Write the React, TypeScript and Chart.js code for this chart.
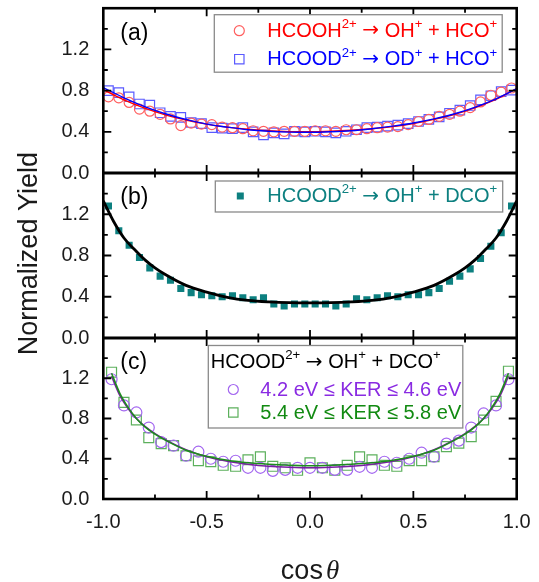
import React, { useEffect, useRef } from 'react';
import { Chart, registerables } from 'chart.js';

Chart.register(...registerables);

const SANS = '"Liberation Sans", Arial, Helvetica, sans-serif';
const ARROW_FONT = '"DejaVu Sans", "Liberation Sans", sans-serif';
const SERIF = '"Liberation Serif", "Times New Roman", serif';

// cos(theta) bin centres used in panels (a) and (b)
const cosBinsAB = [
  -0.975, -0.925, -0.875, -0.825, -0.775, -0.725, -0.675, -0.625, -0.575, -0.525,
  -0.475, -0.425, -0.375, -0.325, -0.275, -0.225, -0.175, -0.125, -0.075, -0.025,
  0.025, 0.075, 0.125, 0.175, 0.225, 0.275, 0.325, 0.375, 0.425, 0.475,
  0.525, 0.575, 0.625, 0.675, 0.725, 0.775, 0.825, 0.875, 0.925, 0.975,
];

// (a) HCOOH2+ -> OH+ + HCO+
const yieldHcoohOH = [
  0.74, 0.73, 0.685, 0.62, 0.6, 0.57, 0.525, 0.46, 0.485, 0.475,
  0.47, 0.445, 0.44, 0.43, 0.41, 0.405, 0.4, 0.405, 0.405, 0.405,
  0.41, 0.41, 0.405, 0.42, 0.42, 0.43, 0.44, 0.445, 0.45, 0.47,
  0.5, 0.52, 0.55, 0.57, 0.6, 0.635, 0.69, 0.755, 0.785, 0.825,
];

// (a) HCOOD2+ -> OD+ + HCO+
const yieldHcoodOD = [
  0.8, 0.78, 0.74, 0.67, 0.66, 0.585, 0.55, 0.54, 0.49, 0.48,
  0.44, 0.435, 0.43, 0.44, 0.4, 0.37, 0.39, 0.38, 0.405, 0.4,
  0.405, 0.4, 0.39, 0.405, 0.42, 0.44, 0.445, 0.455, 0.465, 0.48,
  0.5, 0.52, 0.545, 0.58, 0.61, 0.655, 0.71, 0.75, 0.79, 0.805,
];

// (b) HCOOD2+ -> OH+ + DCO+
const yieldHcoodOH = [
  1.28, 1.04, 0.9, 0.78, 0.68, 0.6, 0.56, 0.48, 0.44, 0.42,
  0.41, 0.4, 0.41, 0.39, 0.37, 0.39, 0.33, 0.31, 0.33, 0.33,
  0.33, 0.33, 0.31, 0.33, 0.38, 0.37, 0.39, 0.41, 0.4, 0.42,
  0.42, 0.44, 0.48, 0.55, 0.6, 0.67, 0.77, 0.89, 1.02, 1.28,
];

// cos(theta) bin centres used in panel (c)
const cosBinsC = [
  -0.96, -0.9, -0.84, -0.78, -0.72, -0.66, -0.6, -0.54, -0.48, -0.42, -0.36,
  -0.3, -0.24, -0.18, -0.12, -0.06, 0, 0.06, 0.12, 0.18, 0.24, 0.3,
  0.36, 0.42, 0.48, 0.54, 0.6, 0.66, 0.72, 0.78, 0.84, 0.9, 0.96,
];

// (c) 4.2 eV <= KER <= 4.6 eV
const yieldKerLow = [
  1.19, 0.93, 0.86, 0.71, 0.565, 0.53, 0.43, 0.47, 0.4, 0.37, 0.38,
  0.31, 0.31, 0.28, 0.29, 0.31, 0.31, 0.31, 0.29, 0.29, 0.32, 0.31,
  0.37, 0.36, 0.4, 0.46, 0.42, 0.55, 0.58, 0.71, 0.85, 0.93, 1.19,
];

// (c) 5.4 eV <= KER <= 5.8 eV
const yieldKerHigh = [
  1.26, 0.96, 0.785, 0.61, 0.55, 0.53, 0.43, 0.38, 0.37, 0.335, 0.325,
  0.39, 0.42, 0.325, 0.31, 0.285, 0.36, 0.31, 0.285, 0.335, 0.42, 0.39,
  0.335, 0.325, 0.38, 0.38, 0.42, 0.52, 0.555, 0.62, 0.785, 0.97, 1.27,
];

// fitted angular distributions
const fitCosA = [-1, -0.9, -0.8, -0.7, -0.6, -0.5, -0.4, -0.3, -0.2, -0.1, 0, 0.1, 0.2, 0.3, 0.4, 0.5, 0.6, 0.7, 0.8, 0.9, 1];
const fitHcoohOH = [0.81, 0.71, 0.63, 0.565, 0.515, 0.475, 0.445, 0.425, 0.41, 0.402, 0.4, 0.405, 0.415, 0.43, 0.45, 0.48, 0.52, 0.57, 0.635, 0.715, 0.82];
const fitHcoodOD = [0.83, 0.73, 0.645, 0.575, 0.52, 0.475, 0.445, 0.42, 0.405, 0.397, 0.395, 0.4, 0.41, 0.43, 0.455, 0.485, 0.525, 0.575, 0.64, 0.72, 0.82];

const fitCosB = [-1, -0.95, -0.9, -0.85, -0.8, -0.75, -0.7, -0.6, -0.5, -0.4, -0.3, -0.2, -0.1, 0, 0.1, 0.2, 0.3, 0.4, 0.5, 0.6, 0.7, 0.75, 0.8, 0.85, 0.9, 0.95, 1];
const fitHcoodOH = [1.33, 1.13, 0.97, 0.86, 0.76, 0.68, 0.615, 0.51, 0.445, 0.395, 0.365, 0.35, 0.342, 0.34, 0.342, 0.35, 0.365, 0.395, 0.445, 0.51, 0.615, 0.68, 0.76, 0.86, 0.97, 1.13, 1.33];

const fitCosC = [-0.96, -0.92, -0.88, -0.84, -0.8, -0.75, -0.7, -0.6, -0.5, -0.4, -0.3, -0.2, -0.1, 0, 0.1, 0.2, 0.3, 0.4, 0.5, 0.6, 0.7, 0.75, 0.8, 0.84, 0.88, 0.92, 0.96];
const fitKerLow = [1.22, 1.03, 0.9, 0.8, 0.725, 0.65, 0.59, 0.49, 0.42, 0.375, 0.345, 0.325, 0.315, 0.31, 0.315, 0.325, 0.345, 0.375, 0.42, 0.49, 0.59, 0.65, 0.725, 0.8, 0.9, 1.03, 1.22];
const fitKerHigh = [1.25, 1.05, 0.91, 0.8, 0.72, 0.645, 0.585, 0.485, 0.425, 0.385, 0.36, 0.345, 0.335, 0.33, 0.335, 0.345, 0.36, 0.385, 0.425, 0.485, 0.585, 0.645, 0.72, 0.8, 0.91, 1.05, 1.25];

// axis ticks
const yMajorTicks = [0.4, 0.8, 1.2];
const yMinorTicks = [0.2, 0.6, 1.0, 1.4];
const xMajorTicks = [-0.5, 0, 0.5];
const xMinorTicks = [-0.75, -0.25, 0.25, 0.75];
const yRange = [0, 1.6];
const xRange = [-1, 1];

const panelIds = ['yA', 'yB', 'yC'];
const panelTags = ['(a)', '(b)', '(c)'];

type Seg = { t: string; sup?: boolean; arrow?: boolean };
const reaction = (parent: string, ion1: string, ion2: string): Seg[] => [
  { t: parent }, { t: '2+', sup: true },
  { t: ' ' }, { t: '\u2192', arrow: true }, { t: ' ' + ion1 }, { t: '+', sup: true },
  { t: ' + ' + ion2 }, { t: '+', sup: true },
];

const COL = {
  red: '#ff0000', redMark: 'rgb(255,95,95)',
  blue: '#0000ff', blueMark: 'rgb(90,90,255)',
  teal: '#0d8080',
  violet: '#8a2be2', violetMark: '#a366f0', violetLine: '#7a1fa2',
  green: '#128a12', greenMark: '#5cb05c', greenLine: '#1e8c1e',
  text: '#1a1a1a',
};

const pts = (xs: number[], ys: number[]) => xs.map((x, i) => ({ x, y: ys[i] }));

function drawRich(ctx: CanvasRenderingContext2D, segs: Seg[], x: number, y: number, size: number, color: string) {
  let cx = x;
  ctx.fillStyle = color;
  ctx.textBaseline = 'middle';
  ctx.textAlign = 'left';
  for (const s of segs) {
    const fs = s.sup ? size * 0.66 : size;
    ctx.font = `${fs}px ${s.arrow ? ARROW_FONT : SANS}`;
    ctx.fillText(s.t, cx, s.sup ? y - size * 0.34 : y);
    cx += ctx.measureText(s.t).width;
  }
}

function drawMarker(ctx: CanvasRenderingContext2D, kind: string, x: number, y: number, color: string) {
  ctx.save();
  ctx.lineWidth = 1.2;
  ctx.strokeStyle = color;
  ctx.fillStyle = color;
  ctx.beginPath();
  if (kind === 'circle') {
    ctx.arc(x, y, 5, 0, Math.PI * 2);
    ctx.stroke();
  } else if (kind === 'square') {
    ctx.rect(x - 4.7, y - 4.7, 9.4, 9.4);
    ctx.stroke();
  } else {
    ctx.rect(x - 3.5, y - 3.5, 7, 7);
    ctx.fill();
  }
  ctx.restore();
}

function legendBox(ctx: CanvasRenderingContext2D, l: number, t: number, r: number, b: number) {
  ctx.save();
  ctx.fillStyle = '#ffffff';
  ctx.fillRect(l, t, r - l, b - t);
  ctx.strokeStyle = '#8a8a8a';
  ctx.lineWidth = 1.3;
  ctx.strokeRect(l, t, r - l, b - t);
  ctx.restore();
}

const panelDecor = {
  id: 'panelDecor',
  afterDatasetsDraw(chart: any) {
    const ctx: CanvasRenderingContext2D = chart.ctx;
    const xs = chart.scales.x;
    const { left, right } = chart.chartArea;
    ctx.save();
    ctx.strokeStyle = '#000';
    for (const id of panelIds) {
      const ys = chart.scales[id];
      const top = ys.top;
      const bottom = ys.bottom;
      const tick = (vals: number[], len: number) => {
        ctx.beginPath();
        for (const v of vals) {
          const p = ys.getPixelForValue(v);
          ctx.moveTo(left, p); ctx.lineTo(left + len, p);
          ctx.moveTo(right, p); ctx.lineTo(right - len, p);
        }
        ctx.stroke();
      };
      const xtick = (vals: number[], len: number) => {
        ctx.beginPath();
        for (const v of vals) {
          const p = xs.getPixelForValue(v);
          ctx.moveTo(p, top); ctx.lineTo(p, top + len);
          ctx.moveTo(p, bottom); ctx.lineTo(p, bottom - len);
        }
        ctx.stroke();
      };
      ctx.lineWidth = 1.8;
      tick(yMajorTicks, 8);
      tick(yMinorTicks, 4.5);
      xtick(xMajorTicks, 8);
      xtick(xMinorTicks, 4.5);
      ctx.lineWidth = 2.6;
      ctx.strokeRect(left, top, right - left, bottom - top);
    }
    ctx.restore();
  },
  afterDraw(chart: any) {
    const ctx: CanvasRenderingContext2D = chart.ctx;
    const { left, right, top, bottom } = chart.chartArea;
    const yA = chart.scales.yA;
    const yB = chart.scales.yB;
    const yC = chart.scales.yC;
    const fs = 20;
    ctx.save();

    // panel (a) legend
    legendBox(ctx, left + 111, yA.top + 6.5, right - 14.5, yA.top + 64);
    drawMarker(ctx, 'circle', left + 136, yA.top + 22.5, COL.redMark);
    drawRich(ctx, reaction('HCOOH', 'OH', 'HCO'), left + 164, yA.top + 23, fs, COL.red);
    drawMarker(ctx, 'square', left + 136, yA.top + 51, COL.blueMark);
    drawRich(ctx, reaction('HCOOD', 'OD', 'HCO'), left + 164, yA.top + 51.5, fs, COL.blue);

    // panel (b) legend
    legendBox(ctx, left + 112, yB.top + 8, right - 14, yB.top + 39);
    drawMarker(ctx, 'filled', left + 137, yB.top + 23, COL.teal);
    drawRich(ctx, reaction('HCOOD', 'OH', 'DCO'), left + 164, yB.top + 23.5, fs, COL.teal);

    // panel (c) legend
    legendBox(ctx, left + 105, yC.top + 7.5, left + 359.5, yC.top + 90);
    drawRich(ctx, reaction('HCOOD', 'OH', 'DCO'), left + 107.5, yC.top + 24.5, fs, '#000000');
    drawMarker(ctx, 'circle', left + 130, yC.top + 51.5, COL.violetMark);
    drawRich(ctx, [{ t: '4.2 eV \u2264 KER \u2264 4.6 eV' }], left + 157, yC.top + 52, fs, COL.violet);
    drawMarker(ctx, 'square', left + 130, yC.top + 74.5, COL.greenMark);
    drawRich(ctx, [{ t: '5.4 eV \u2264 KER \u2264 5.8 eV' }], left + 157, yC.top + 75, fs, COL.green);

    // panel tags
    ctx.fillStyle = '#000';
    ctx.font = `23px ${SANS}`;
    ctx.textBaseline = 'middle';
    ctx.textAlign = 'left';
    [yA, yB, yC].forEach((s, i) => {
      ctx.fillText(panelTags[i], left + 17, s.top + 25);
    });

    // y axis title
    ctx.save();
    ctx.translate(30, (top + bottom) / 2);
    ctx.rotate(-Math.PI / 2);
    ctx.textAlign = 'center';
    ctx.fillStyle = COL.text;
    ctx.font = `27px ${SANS}`;
    ctx.fillText('Normalized Yield', 0, 0);
    ctx.restore();

    // x axis title: cos followed by italic theta
    ctx.fillStyle = COL.text;
    ctx.textBaseline = 'alphabetic';
    ctx.font = `27px ${SANS}`;
    const w1 = ctx.measureText('cos').width;
    ctx.font = `italic 27px ${SERIF}`;
    const w2 = ctx.measureText('\u03b8').width;
    const gap = 3;
    const cx = (left + right) / 2 - (w1 + gap + w2) / 2;
    ctx.font = `27px ${SANS}`;
    ctx.fillText('cos', cx, 579);
    ctx.font = `italic 27px ${SERIF}`;
    ctx.fillText('\u03b8', cx + w1 + gap, 579);

    ctx.restore();
  },
};

const tickFont = { family: SANS, size: 20 };

function yScale(weight: number) {
  return {
    type: 'linear',
    position: 'left',
    stack: 'panels',
    stackWeight: weight,
    min: yRange[0],
    max: yRange[1],
    grid: { display: false, drawTicks: false },
    border: { display: false },
    ticks: {
      stepSize: 0.4,
      padding: 14,
      color: COL.text,
      font: tickFont,
      callback: (v: number) => (Math.abs(v - yRange[1]) < 1e-6 ? null : Number(v).toFixed(1)),
    },
    afterFit: (s: any) => {
      s.width = 103.3;
      s.paddingTop = 0;
      s.paddingBottom = 0;
    },
  };
}

export default function App() {
  const ref = useRef<HTMLCanvasElement | null>(null);

  useEffect(() => {
    if (!ref.current) return;
    const lineDs = (xs: number[], ys: number[], axis: string, color: string, width: number) => ({
      data: pts(xs, ys),
      yAxisID: axis,
      showLine: true,
      borderColor: color,
      borderWidth: width,
      pointRadius: 0,
      cubicInterpolationMode: 'monotone',
      order: 0,
    });
    const markDs = (xs: number[], ys: number[], axis: string, style: string, r: number, color: string, filled: boolean) => ({
      data: pts(xs, ys),
      yAxisID: axis,
      showLine: false,
      pointStyle: style,
      pointRadius: r,
      pointBorderWidth: filled ? 0 : 1.2,
      pointBorderColor: color,
      pointBackgroundColor: filled ? color : 'rgba(0,0,0,0)',
      order: 1,
    });

    const chart = new Chart(ref.current, {
      type: 'scatter',
      data: {
        datasets: [
          lineDs(fitCosA, fitHcoodOD, 'yA', COL.blue, 1.4),
          lineDs(fitCosA, fitHcoohOH, 'yA', COL.red, 1.4),
          lineDs(fitCosB, fitHcoodOH, 'yB', '#000000', 2.8),
          lineDs(fitCosC, fitKerHigh, 'yC', COL.greenLine, 1.6),
          lineDs(fitCosC, fitKerLow, 'yC', COL.violetLine, 1.6),
          markDs(cosBinsAB, yieldHcoohOH, 'yA', 'circle', 5, COL.redMark, false),
          markDs(cosBinsAB, yieldHcoodOD, 'yA', 'rect', 6.7, COL.blueMark, false),
          markDs(cosBinsAB, yieldHcoodOH, 'yB', 'rect', 5, COL.teal, true),
          markDs(cosBinsC, yieldKerLow, 'yC', 'circle', 5.5, COL.violetMark, false),
          markDs(cosBinsC, yieldKerHigh, 'yC', 'rect', 7, COL.greenMark, false),
        ] as any,
      },
      options: {
        animation: false,
        responsive: false,
        maintainAspectRatio: false,
        layout: { padding: { left: 0, right: 22.3, top: 6.7, bottom: 0 } },
        plugins: { legend: { display: false }, tooltip: { enabled: false } },
        scales: {
          x: {
            type: 'linear',
            min: xRange[0],
            max: xRange[1],
            grid: { display: false, drawTicks: false },
            border: { display: false },
            ticks: {
              stepSize: 0.5,
              padding: 11,
              maxRotation: 0,
              color: COL.text,
              font: tickFont,
              callback: (v: number) => Number(v).toFixed(1),
            },
            afterFit: (s: any) => {
              s.height = 83;
              s.paddingLeft = 0;
              s.paddingRight = 0;
            },
          },
          yC: yScale(161.5),
          yB: yScale(165.5),
          yA: yScale(165.3),
        } as any,
      },
      plugins: [panelDecor],
    });
    return () => chart.destroy();
  }, []);

  return (
    <div style={{ position: 'fixed', left: 0, top: 0, width: 539, height: 582, background: '#ffffff' }}>
      <canvas ref={ref} width={539} height={582} style={{ display: 'block' }} />
    </div>
  );
}
